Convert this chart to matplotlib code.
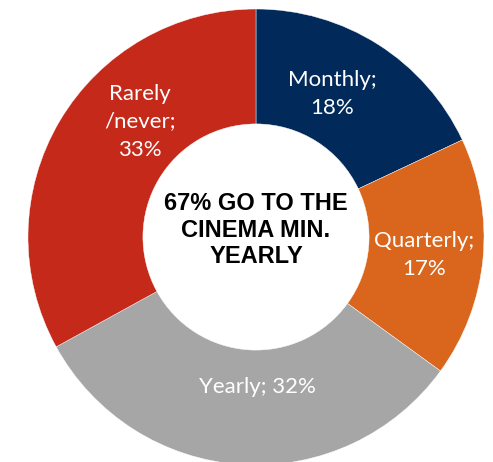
import numpy as np
import matplotlib
matplotlib.use("Agg")
import matplotlib.pyplot as plt

# ==========================================================
# Data
# ==========================================================

labels = ["Monthly;\n18%", "Quarterly;\n17%", "Yearly; 32%", "Rarely\n/never;\n33%"]
values = [18, 17, 32, 33]
colors = ["#012A5B", "#DA661D", "#A6A6A6", "#C5291A"]
center_text = "67% GO TO THE\nCINEMA MIN.\nYEARLY"

# small label nudges (data units) to mimic the original placement
nudges = [(-0.05, 0.02), (0.02, -0.01), (0.05, 0.06), (0.11, 0.14)]

# ==========================================================
# Figure
# ==========================================================

W, H = 493, 462
fig = plt.figure(figsize=(W / 100, H / 100), dpi=100)
ax = fig.add_axes([28 / W, -3 / H, 456 / W, 456 / H])

wedges, _ = ax.pie(
    values,
    colors=colors,
    startangle=90,
    counterclock=False,
    radius=1,
    wedgeprops=dict(width=0.504, edgecolor="white", linewidth=0.3),
)

for w, lab, (dx, dy) in zip(wedges, labels, nudges):
    ang = np.deg2rad((w.theta1 + w.theta2) / 2)
    x = 0.72 * np.cos(ang) + dx
    y = 0.72 * np.sin(ang) + dy
    ax.text(x, y, lab, ha="center", va="center", color="white",
            fontsize=16, family="Lato", linespacing=1.5)

ax.text(0, 0.03, center_text, ha="center", va="center", color="black",
        fontsize=17, fontweight="bold", family="Liberation Sans",
        linespacing=1.18)

ax.set_xlim(-1, 1)
ax.set_ylim(-1, 1)
ax.axis("off")

fig.savefig("out.png", dpi=100, facecolor="white")
